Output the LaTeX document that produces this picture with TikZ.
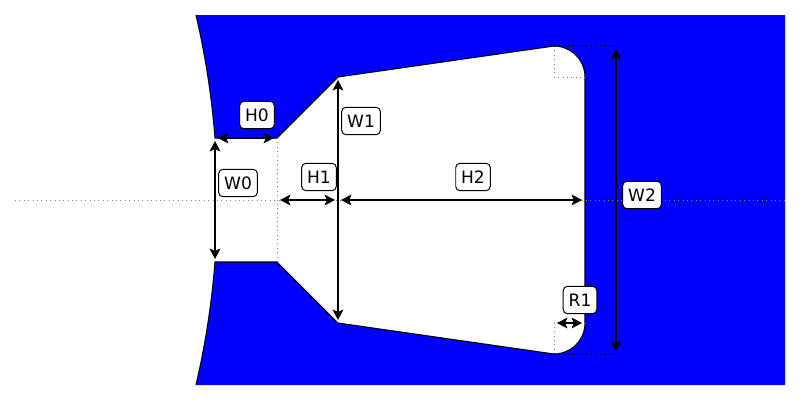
\documentclass[tikz,border=0pt]{standalone}
\usepackage{fontspec}
\setmainfont{DejaVu Sans}
\usetikzlibrary{arrows.meta}
\definecolor{myblue}{HTML}{0000FF}
\tikzset{
  dimarrow/.style={{Stealth[length=6pt,width=6pt,inset=1.3pt]}-{Stealth[length=6pt,width=6pt,inset=1.3pt]}, line width=1.5pt, black, shorten >=1.6pt, shorten <=1.6pt},
  guideline/.style={dotted, gray, line width=0.5pt},
  guideblack/.style={dotted, black, line width=0.6pt},
  dimlabel/.style={draw=black, fill=white, rounded corners=2.4pt, line width=0.55pt, inner xsep=3.1pt, inner ysep=0pt, minimum height=15.6pt, font=\fontsize{9.7}{11}\selectfont},
}
\begin{document}
\begin{tikzpicture}[x=0.02cm, y=-0.02cm]
    \useasboundingbox (0,0) rectangle (800,400);
    % outline points
    \coordinate (top) at (196,15);
    \coordinate (bot) at (196,385);
    \coordinate (h0a) at (215,138);
    \coordinate (h0b) at (277,138);
    \coordinate (h0c) at (215,262);
    \coordinate (h0d) at (277,262);
    \coordinate (w1a) at (338,77);
    \coordinate (w1b) at (338,323);
    \coordinate (r1a) at (554,46);
    \coordinate (r1b) at (585,77);
    \coordinate (r1c) at (585,323);
    \coordinate (r1d) at (554,354);
    \coordinate (c1) at (554,77);
    \coordinate (c2) at (554,323);
    \coordinate (w2a) at (616,46);
    \coordinate (w2b) at (616,354);
    \coordinate (axl) at (15,200);
    \coordinate (axr) at (785,200);
    \coordinate (ax1) at (277,200);
    \coordinate (ax2) at (338,200);
    \coordinate (ax3) at (585,200);
    % solid body
    \fill[myblue] (top) -- (785,15) -- (785,385) -- (bot)
      .. controls (205.5,344) and (211.8,303) .. (h0c) -- (h0d) -- (w1b) -- (r1d)
      .. controls (571,354) and (585,340) .. (r1c) -- (r1b)
      .. controls (585,60) and (571,46) .. (r1a) -- (w1a) -- (h0b) -- (h0a)
      .. controls (211.8,97) and (205.5,56) .. (top) -- cycle;
    \draw[line width=0.6pt] (top) .. controls (205.5,56) and (211.8,97) .. (h0a) -- (h0b) -- (w1a) -- (r1a)
      .. controls (571,46) and (585,60) .. (r1b) -- (r1c)
      .. controls (585,340) and (571,354) .. (r1d) -- (w1b) -- (h0d) -- (h0c)
      .. controls (211.8,303) and (205.5,344) .. (bot);
    % guides
    \draw[guideline] (axl) -- (axr);
    \draw[guideline] (h0b) -- (h0d);
    \draw[guideline] (r1a) -- (c1) -- (r1b);
    \draw[guideline] (r1d) -- (c2) -- (r1c);
    \draw[guideblack] (r1a) -- (w2a);
    \draw[guideblack] (r1d) -- (w2b);
    % dimensions
    \draw[dimarrow] (h0a) -- (h0b);
    \draw[dimarrow] (h0a) -- (h0c);
    \draw[dimarrow] (ax1) -- (ax2);
    \draw[dimarrow] (ax2) -- (ax3);
    \draw[dimarrow] (w1a) -- (w1b);
    \draw[dimarrow] (w2a) -- (w2b);
    \draw[dimarrow] (c2) -- (r1c);
    \node[dimlabel] (labelH0) at (257,115) {H0};
    \node[dimlabel] (labelW0) at (238,183) {W0};
    \node[dimlabel] (labelH1) at (319,177) {H1};
    \node[dimlabel] (labelW1) at (361,121) {W1};
    \node[dimlabel] (labelH2) at (473,177) {H2};
    \node[dimlabel] (labelW2) at (642,195) {W2};
    \node[dimlabel] (labelR1) at (580,300) {R1};
  \end{tikzpicture}
\end{document}
